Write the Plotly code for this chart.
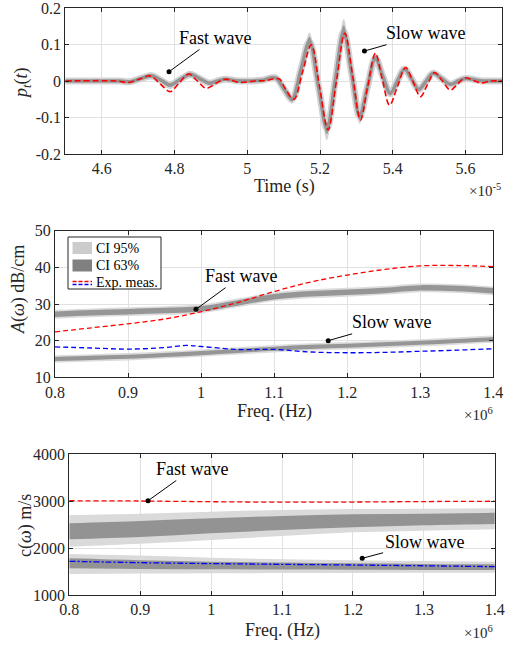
import plotly.graph_objects as go

FONT = "Liberation Serif, Times New Roman, serif"
W, H = 511, 645

# ---------------- Panel 1: time signals (time in units of 1e-5 s) ----------------
t_model = [4.50, 4.60, 4.65, 4.678, 4.705, 4.738, 4.763, 4.788, 4.815, 4.843, 4.870, 4.896,
           4.918, 4.939, 4.970, 5.000, 5.040, 5.077, 5.100, 5.123, 5.147, 5.171, 5.195, 5.219,
           5.242, 5.265, 5.287, 5.309, 5.330, 5.352, 5.372, 5.393, 5.412, 5.432, 5.452, 5.471,
           5.491, 5.511, 5.535, 5.558, 5.580, 5.600, 5.640, 5.700]
p_model = [0, 0, 0, -0.002, 0.006, 0.014, 0.002, -0.011, 0.004, 0.018, 0.006, -0.006,
           0.000, 0.005, 0.001, 0.000, 0.002, 0.009, -0.020, -0.050, 0.029, 0.108, -0.011, -0.130,
           0.003, 0.135, 0.020, -0.096, -0.017, 0.062, 0.014, -0.034, -0.001, 0.032, 0.005, -0.023,
           -0.001, 0.021, 0.006, -0.009, 0.000, 0.007, 0.001, 0.000]
hw95_t = [0.002, 0.002, 0.004, 0.006, 0.008, 0.010, 0.008, 0.010, 0.008, 0.010, 0.008, 0.008,
          0.006, 0.006, 0.004, 0.003, 0.003, 0.005, 0.006, 0.012, 0.008, 0.025, 0.008, 0.032,
          0.008, 0.035, 0.008, 0.022, 0.006, 0.015, 0.006, 0.010, 0.005, 0.008, 0.005, 0.006,
          0.004, 0.005, 0.004, 0.004, 0.003, 0.003, 0.002, 0.002]
hw63_t = [0.001, 0.001, 0.002, 0.003, 0.004, 0.005, 0.004, 0.005, 0.004, 0.005, 0.004, 0.004,
          0.003, 0.003, 0.002, 0.0015, 0.0015, 0.0025, 0.003, 0.006, 0.004, 0.013, 0.004, 0.016,
          0.004, 0.018, 0.004, 0.011, 0.003, 0.008, 0.003, 0.005, 0.0025, 0.004, 0.0025, 0.003,
          0.002, 0.0025, 0.002, 0.002, 0.0015, 0.0015, 0.001, 0.001]
t_exp = [4.50, 4.64, 4.674, 4.703, 4.733, 4.760, 4.788, 4.813, 4.839, 4.863, 4.887, 4.913,
         4.939, 4.980, 5.020, 5.050, 5.087, 5.105, 5.128, 5.152, 5.176, 5.199, 5.222, 5.245,
         5.268, 5.290, 5.311, 5.331, 5.352, 5.371, 5.391, 5.413, 5.435, 5.456, 5.476, 5.495,
         5.515, 5.537, 5.558, 5.578, 5.600, 5.620, 5.642, 5.670, 5.700]
p_exp = [0, 0, -0.004, 0.005, 0.014, -0.007, -0.029, -0.005, 0.019, 0.000, -0.020, -0.007,
         0.005, -0.004, 0.000, 0.001, 0.006, -0.022, -0.050, 0.025, 0.099, -0.018, -0.134, -0.001,
         0.131, 0.012, -0.107, -0.015, 0.076, 0.005, -0.066, -0.014, 0.037, -0.003, -0.043, -0.010,
         0.023, -0.001, -0.025, -0.008, 0.009, 0.002, -0.005, 0.000, 0.000]
t_ticks = [4.6, 4.8, 5.0, 5.2, 5.4, 5.6]
t_ticktext = ["4.6", "4.8", "5", "5.2", "5.4", "5.6"]
p_ticks = [-0.2, -0.1, 0, 0.1, 0.2]
p_ticktext = ["-0.2", "-0.1", "0", "0.1", "0.2"]

# ---------------- Panel 2: attenuation (freq in units of 1e6 Hz) ----------------
f_att = [0.80, 0.85, 0.90, 0.95, 1.00, 1.05, 1.10, 1.15, 1.20, 1.25, 1.30, 1.35, 1.40]
att_fast_model = [27.2, 27.6, 27.9, 28.2, 28.7, 30.3, 32.0, 32.8, 33.2, 33.7, 34.4, 34.2, 33.6]
att_fast_hw95 = [1.2] * 13
att_fast_hw63 = [0.75] * 13
att_slow_model = [15.0, 15.3, 15.6, 16.1, 16.6, 17.2, 17.8, 18.3, 18.6, 19.0, 19.4, 19.9, 20.4]
att_slow_hw95 = [1.0] * 13
att_slow_hw63 = [0.55] * 13
att_fast_exp = [22.4, 23.5, 24.6, 25.9, 27.9, 30.4, 33.4, 36.0, 37.9, 39.4, 40.4, 40.5, 40.2]
f_att_blue = [0.80, 0.85, 0.90, 0.95, 0.98, 1.00, 1.05, 1.10, 1.15, 1.20, 1.25, 1.30, 1.35, 1.40]
att_slow_exp = [18.3, 18.0, 17.7, 18.1, 18.7, 18.4, 17.6, 17.6, 16.9, 16.7, 16.8, 17.1, 17.4, 17.8]
f_ticks = [0.8, 0.9, 1.0, 1.1, 1.2, 1.3, 1.4]
f_ticktext = ["0.8", "0.9", "1", "1.1", "1.2", "1.3", "1.4"]
att_ticks = [10, 20, 30, 40, 50]

# ---------------- Panel 3: phase velocity ----------------
f_vel = [0.8, 0.9, 1.0, 1.1, 1.2, 1.3, 1.4]
vel_fast95_hi = [2702, 2731, 2773, 2809, 2830, 2837, 2844]
vel_fast95_lo = [2028, 2092, 2170, 2255, 2333, 2368, 2397]
vel_fast63_hi = [2525, 2574, 2631, 2681, 2716, 2731, 2751]
vel_fast63_lo = [2185, 2234, 2312, 2383, 2440, 2483, 2510]
vel_slow95_hi = [1872, 1840, 1794, 1760, 1740, 1722, 1709]
vel_slow95_lo = [1447, 1455, 1461, 1466, 1470, 1473, 1475]
vel_slow63_hi = [1780, 1740, 1709, 1690, 1675, 1662, 1652]
vel_slow63_lo = [1567, 1555, 1546, 1540, 1536, 1534, 1532]
vel_fast_exp = [3005, 3000, 2985, 2975, 2978, 2988, 2995]
vel_slow_exp = [1717, 1688, 1668, 1652, 1638, 1622, 1603]
vel_ticks = [1000, 2000, 3000, 4000]

LIGHT = "#d3d3d3"
RED = "#ff0000"
BLUE = "#0000ff"

fig = go.Figure()


def band(x, lo, hi, color, xa, ya, shape="linear"):
    fig.add_trace(go.Scatter(x=x, y=lo, mode="lines", line=dict(width=0, color=color, shape=shape),
                             xaxis=xa, yaxis=ya, showlegend=False, hoverinfo="skip"))
    fig.add_trace(go.Scatter(x=x, y=hi, mode="lines", line=dict(width=0, color=color, shape=shape),
                             fill="tonexty", fillcolor=color, xaxis=xa, yaxis=ya,
                             showlegend=False, hoverinfo="skip"))


# Panel 1
up95 = [m + h for m, h in zip(p_model, hw95_t)]
lo95 = [m - h for m, h in zip(p_model, hw95_t)]
up63 = [m + h for m, h in zip(p_model, hw63_t)]
lo63 = [m - h for m, h in zip(p_model, hw63_t)]
band(t_model, lo95, up95, LIGHT, "x", "y", "spline")
fig.add_trace(go.Scatter(x=t_model, y=p_model, mode="lines", line=dict(color=LIGHT, width=7, shape="spline"),
                         xaxis="x", yaxis="y", showlegend=False))
band(t_model, lo63, up63, "#999999", "x", "y", "spline")
fig.add_trace(go.Scatter(x=t_model, y=p_model, mode="lines", line=dict(color="#959595", width=3.5, shape="spline"),
                         xaxis="x", yaxis="y", showlegend=False))
fig.add_trace(go.Scatter(x=t_exp, y=p_exp, mode="lines",
                         line=dict(color=RED, width=1.6, dash="6px,3px", shape="spline"),
                         xaxis="x", yaxis="y", showlegend=False))

# Panel 2
band(f_att, [m - h for m, h in zip(att_fast_model, att_fast_hw95)],
     [m + h for m, h in zip(att_fast_model, att_fast_hw95)], "#dcdcdc", "x2", "y2", "spline")
band(f_att, [m - h for m, h in zip(att_fast_model, att_fast_hw63)],
     [m + h for m, h in zip(att_fast_model, att_fast_hw63)], "#969696", "x2", "y2", "spline")
band(f_att, [m - h for m, h in zip(att_slow_model, att_slow_hw95)],
     [m + h for m, h in zip(att_slow_model, att_slow_hw95)], "#dcdcdc", "x2", "y2", "spline")
band(f_att, [m - h for m, h in zip(att_slow_model, att_slow_hw63)],
     [m + h for m, h in zip(att_slow_model, att_slow_hw63)], "#969696", "x2", "y2", "spline")
fig.add_trace(go.Scatter(x=f_att, y=att_fast_exp, mode="lines",
                         line=dict(color=RED, width=1.3, dash="5px,3px", shape="spline"),
                         xaxis="x2", yaxis="y2", showlegend=False))
fig.add_trace(go.Scatter(x=f_att_blue, y=att_slow_exp, mode="lines",
                         line=dict(color=BLUE, width=1.3, dash="5px,3px", shape="spline"),
                         xaxis="x2", yaxis="y2", showlegend=False))

# Panel 3
band(f_vel, vel_fast95_lo, vel_fast95_hi, "#dadada", "x3", "y3", "spline")
band(f_vel, vel_fast63_lo, vel_fast63_hi, "#939393", "x3", "y3", "spline")
band(f_vel, vel_slow95_lo, vel_slow95_hi, "#dadada", "x3", "y3", "spline")
band(f_vel, vel_slow63_lo, vel_slow63_hi, "#939393", "x3", "y3", "spline")
fig.add_trace(go.Scatter(x=f_vel, y=vel_fast_exp, mode="lines",
                         line=dict(color=RED, width=1.3, dash="5px,3px", shape="spline"),
                         xaxis="x3", yaxis="y3", showlegend=False))
fig.add_trace(go.Scatter(x=f_vel, y=vel_slow_exp, mode="lines",
                         line=dict(color=BLUE, width=1.3, dash="6px,2px,2px,2px", shape="spline"),
                         xaxis="x3", yaxis="y3", showlegend=False))

# Callouts: (axis, dot x, dot y, text x, text y, label)
callouts = [
    ("", 4.785, 0.0255, 4.912, 0.118, "Fast wave"),
    ("", 5.322, 0.082, 5.492, 0.131, "Slow wave"),
    ("2", 0.993, 28.55, 1.055, 37.6, "Fast wave"),
    ("2", 1.174, 20.0, 1.262, 25.0, "Slow wave"),
    ("3", 0.911, 3006, 0.9735, 3681, "Fast wave"),
    ("3", 1.213, 1780, 1.301, 2135, "Slow wave"),
]
annotations = []
for ax_id, dx, dy, tx, ty, label in callouts:
    fig.add_trace(go.Scatter(x=[dx], y=[dy], mode="markers", marker=dict(color="black", size=5),
                             xaxis="x" + ax_id, yaxis="y" + ax_id, showlegend=False))
    annotations.append(dict(x=dx, y=dy, ax=tx, ay=ty, xref="x" + ax_id, yref="y" + ax_id,
                            axref="x" + ax_id, ayref="y" + ax_id, text=label, showarrow=True,
                            arrowhead=0, arrowwidth=1, arrowcolor="black",
                            font=dict(family=FONT, size=18, color="black")))


def px_x(p):
    return p / W


def px_y(p):
    return 1 - p / H


def txt(x, y, s, size=18, angle=0, xanchor="center", yanchor="middle"):
    annotations.append(dict(x=px_x(x), y=px_y(y), xref="paper", yref="paper", text=s,
                            showarrow=False, textangle=angle, xanchor=xanchor, yanchor=yanchor,
                            font=dict(family=FONT, size=size, color="#262626")))


txt(284, 186, "Time (s)")
txt(274, 411, "Freq. (Hz)")
txt(282, 630, "Freq. (Hz)")
txt(23, 83, "<i>p<sub>t</sub></i>(<i>t</i>)", angle=-90)
txt(18, 290, "<i>A</i>(<i>ω</i>) dB/cm", angle=-90)
txt(25, 526, "c(<i>ω</i>) m/s", angle=-90)
txt(503, 190, "×10<sup>-5</sup>", size=15, xanchor="right")
txt(495, 414, "×10<sup>6</sup>", size=15, xanchor="right")
txt(495, 632, "×10<sup>6</sup>", size=15, xanchor="right")

# Legend (drawn manually in panel 2)
shapes = [
    dict(type="rect", xref="paper", yref="paper", x0=px_x(68), x1=px_x(161), y0=px_y(289), y1=px_y(237),
         line=dict(color="#262626", width=1), fillcolor="white", layer="above"),
    dict(type="rect", xref="paper", yref="paper", x0=px_x(72.5), x1=px_x(92), y0=px_y(254), y1=px_y(242),
         line=dict(width=0), fillcolor="#cccccc", layer="above"),
    dict(type="rect", xref="paper", yref="paper", x0=px_x(72.5), x1=px_x(92), y0=px_y(271.5), y1=px_y(259.5),
         line=dict(width=0), fillcolor="#808080", layer="above"),
    dict(type="line", xref="paper", yref="paper", x0=px_x(72.5), x1=px_x(92), y0=px_y(281.5), y1=px_y(281.5),
         line=dict(color=RED, width=1.5, dash="4px,2px"), layer="above"),
    dict(type="line", xref="paper", yref="paper", x0=px_x(72.5), x1=px_x(92), y0=px_y(284.5), y1=px_y(284.5),
         line=dict(color=BLUE, width=1.5, dash="4px,2px"), layer="above"),
]
for yy, s in [(248, "CI 95%"), (265.5, "CI 63%"), (282, "Exp. meas.")]:
    annotations.append(dict(x=px_x(93.5), y=px_y(yy), xref="paper", yref="paper", text=s,
                            showarrow=False, xanchor="left", yanchor="middle",
                            font=dict(family=FONT, size=14, color="black")))

common = dict(showline=True, linecolor="#262626", linewidth=1, mirror="ticks", ticks="inside",
              ticklen=4, tickcolor="#262626", showgrid=True, gridcolor="#e1e1e1", gridwidth=1,
              zeroline=False, automargin=False, ticklabeloverflow="allow",
              tickfont=dict(family=FONT, size=16, color="#262626"))

fig.update_layout(
    width=W, height=H, margin=dict(l=0, r=0, t=0, b=0, autoexpand=False),
    font=dict(family=FONT, color="#262626"),
    paper_bgcolor="white", plot_bgcolor="white", showlegend=False,
    xaxis=dict(common, domain=[px_x(65.3), px_x(502)], range=[4.5, 5.7], tickvals=t_ticks,
               ticktext=t_ticktext, anchor="y", ticklabelstandoff=0),
    yaxis=dict(common, domain=[px_y(154), px_y(8)], range=[-0.2, 0.2], tickvals=p_ticks,
               ticktext=p_ticktext, anchor="x"),
    xaxis2=dict(common, domain=[px_x(55), px_x(493.3)], range=[0.8, 1.4], tickvals=f_ticks,
                ticktext=f_ticktext, anchor="y2", ticklabelstandoff=0),
    yaxis2=dict(common, domain=[px_y(377.3), px_y(230.7)], range=[10, 50], tickvals=att_ticks, anchor="x2"),
    xaxis3=dict(common, domain=[px_x(69.3), px_x(494.8)], range=[0.8, 1.4], tickvals=f_ticks,
                ticktext=f_ticktext, anchor="y3", ticklabelstandoff=0),
    yaxis3=dict(common, domain=[px_y(595), px_y(454)], range=[1000, 4000], tickvals=vel_ticks, anchor="x3"),
    annotations=annotations,
    shapes=shapes,
)

fig.write_html("out.html", config={"displayModeBar": False},
               post_script="document.body.style.margin='0';document.body.style.overflow='hidden';")
